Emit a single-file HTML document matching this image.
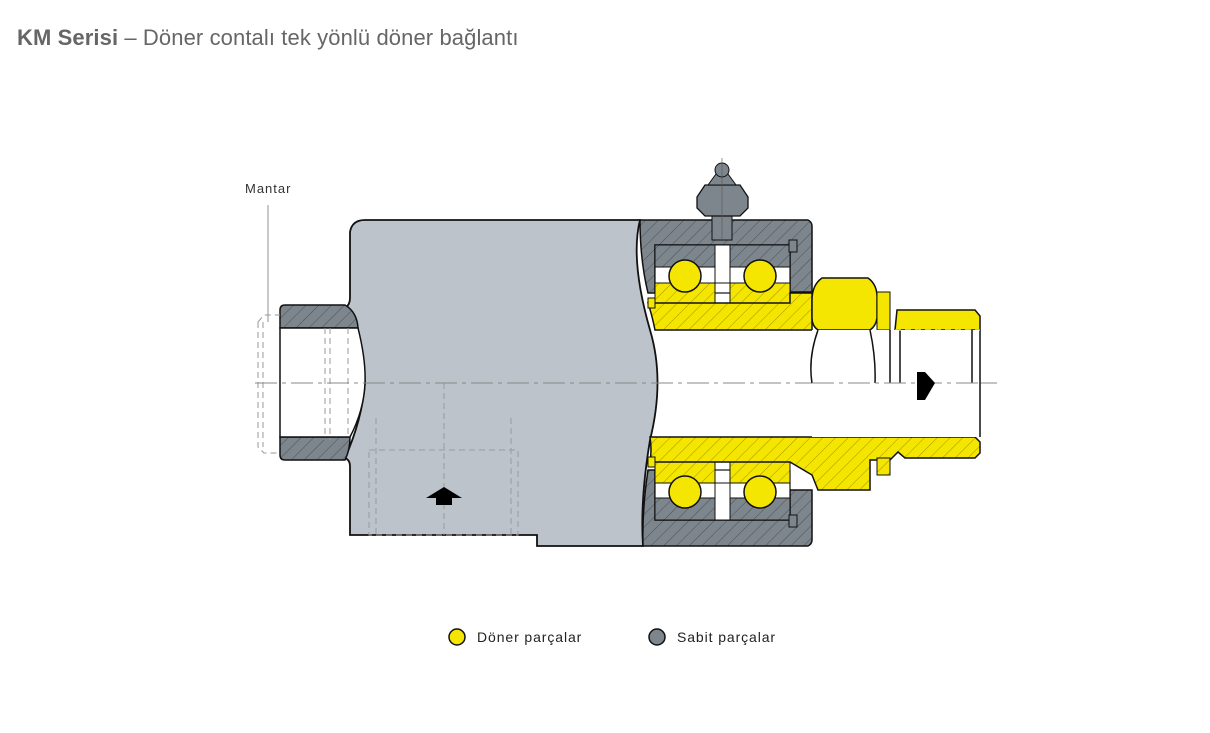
<!DOCTYPE html>
<html><head><meta charset="utf-8"><style>
html,body{margin:0;padding:0;background:#fff;}
body{width:1210px;height:733px;overflow:hidden;position:relative;font-family:"Liberation Sans",sans-serif;}
.t{position:absolute;left:17px;top:25px;font-size:22px;color:#666;letter-spacing:0.1px;}
</style></head><body>
<div class="t"><b>KM Serisi</b> – Döner contalı tek yönlü döner bağlantı</div>
<svg width="1210" height="733" style="position:absolute;left:0;top:0">
<defs>
<pattern id="hg" width="9" height="9" patternUnits="userSpaceOnUse" patternTransform="rotate(45)"><rect width="9" height="9" fill="#7e868d"/><line x1="0" y1="0" x2="0" y2="9" stroke="#4a4f54" stroke-width="1"/></pattern>
<pattern id="hy" width="9" height="9" patternUnits="userSpaceOnUse" patternTransform="rotate(45)"><rect width="9" height="9" fill="#f4e600"/><line x1="0" y1="0" x2="0" y2="9" stroke="#8a8000" stroke-width="0.8"/></pattern>
</defs>
<text x="245" y="193" font-size="13" fill="#333" letter-spacing="1">Mantar</text>
<line x1="268" y1="205" x2="268" y2="322" stroke="#777" stroke-width="0.8"/>
<!-- main body -->
<path d="M365,220 L640,220 Q630,260 650,330 Q665,380 650,440 Q640,500 643,546 L537,546 L537,535 L350,535 L350,466 Q350,460 345,458 Q362,420 365,383 Q362,345 345,308 Q350,305 350,298 L350,232 Q352,220 365,220 Z" fill="#bdc3ca" stroke="#111" stroke-width="1.8"/>
<!-- left tube -->
<path d="M285,305 L345,305 Q357,312 358,328 L280,328 L280,310 Q280,305 285,305 Z" fill="url(#hg)" stroke="#111" stroke-width="1.5"/>
<path d="M280,437 L350,437 Q350,450 345,460 L285,460 Q280,460 280,455 Z" fill="url(#hg)" stroke="#111" stroke-width="1.5"/>
<path d="M280,328 L358,328 Q366,360 365,383 Q364,410 350,437 L280,437 Z" fill="#fff" stroke="#111" stroke-width="1.5"/>
<g stroke="#999" stroke-width="1" stroke-dasharray="6,4" fill="none">
<path d="M258,322 L264,315 L280,315 M258,322 L258,447 L264,453 L280,453"/>
<line x1="263" y1="322" x2="263" y2="447"/>
<line x1="325" y1="328" x2="325" y2="440"/><line x1="330" y1="328" x2="330" y2="440"/>
<line x1="348" y1="328" x2="348" y2="437"/>
<rect x="369" y="450" width="149" height="85"/>
<line x1="376" y1="418" x2="376" y2="535"/><line x1="511" y1="418" x2="511" y2="535"/>
<line x1="444" y1="383" x2="444" y2="535"/>
</g>
<line x1="255" y1="383" x2="1000" y2="383" stroke="#888" stroke-width="1" stroke-dasharray="22,5,4,5"/>
<path d="M426,498 L444,487 L462,498 L452,498 L452,505 L436,505 L436,498 Z" fill="#000"/>
<!-- right housing -->
<path d="M640,220 L808,220 Q812,222 812,226 L812,292 L790,292 L790,245 L655,245 L655,293 L648,293 Q640,260 640,220 Z" fill="url(#hg)" stroke="#111" stroke-width="1.5"/>
<path d="M643,546 L808,546 Q812,544 812,540 L812,490 L790,490 L790,520 L655,520 L655,470 L648,470 Q642,510 643,546 Z" fill="url(#hg)" stroke="#111" stroke-width="1.5"/>
<rect x="655" y="245" width="135" height="48" fill="#fff" stroke="#111" stroke-width="1.2"/>
<rect x="655" y="470" width="135" height="50" fill="#fff" stroke="#111" stroke-width="1.2"/>
<!-- bearing outer rings -->
<rect x="655" y="245" width="60" height="22" fill="url(#hg)" stroke="#111"/>
<rect x="730" y="245" width="60" height="22" fill="url(#hg)" stroke="#111"/>
<rect x="655" y="498" width="60" height="22" fill="url(#hg)" stroke="#111"/>
<rect x="730" y="498" width="60" height="22" fill="url(#hg)" stroke="#111"/>
<!-- inner rings -->
<rect x="655" y="283" width="60" height="20" fill="url(#hy)" stroke="#111"/>
<rect x="730" y="283" width="60" height="20" fill="url(#hy)" stroke="#111"/>
<rect x="655" y="460" width="60" height="23" fill="url(#hy)" stroke="#111"/>
<rect x="730" y="460" width="60" height="23" fill="url(#hy)" stroke="#111"/>
<!-- shaft -->
<path d="M648,303 L790,303 L790,293 L812,293 L812,330 L655,330 Q652,315 648,303 Z" fill="url(#hy)" stroke="#111" stroke-width="1.5"/>
<path d="M650,437 L975,437 L980,442 L980,453 L975,458 L905,458 L898,452 L890,460 L870,460 L870,490 L818,490 L812,475 L790,462 L650,462 Q652,450 650,437 Z" fill="url(#hy)" stroke="#111" stroke-width="1.5"/>
<rect x="877" y="458" width="13" height="17" fill="url(#hy)" stroke="#111"/>
<!-- hex nut / fitting -->
<path d="M822,278 L868,278 Q878,285 877,300 L877,318 Q876,326 870,330 L818,330 Q812,326 812,318 L812,300 Q812,285 822,278 Z" fill="#f4e600" stroke="#111" stroke-width="1.5"/>
<rect x="877" y="292" width="13" height="38" fill="#f4e600" stroke="#111"/>
<path d="M897,310 L975,310 L980,316 L980,330 L895,330 Z" fill="#f4e600" stroke="#111" stroke-width="1.5"/>
<rect x="812" y="330" width="168" height="107" fill="#fff"/>
<g stroke="#111" stroke-width="1.5" fill="none">
<path d="M818,330 Q808,358 812,383 M870,330 Q876,358 875,383 M890,330 L890,383 M900,330 L900,383 M972,330 L972,383 M980,330 L980,437"/>
</g>
<line x1="812" y1="383" x2="980" y2="383" stroke="#888" stroke-width="1" stroke-dasharray="22,5,4,5"/>
<line x1="895" y1="330" x2="980" y2="330" stroke="#fff" stroke-width="1" stroke-dasharray="6,4"/>
<path d="M917,372 L925,372 L935,383 L925,400 L917,400 Z" fill="#000"/>
<!-- balls -->
<g fill="#f4e600" stroke="#111" stroke-width="1.5">
<circle cx="685" cy="276" r="16"/><circle cx="760" cy="276" r="16"/>
<circle cx="685" cy="492" r="16"/><circle cx="760" cy="492" r="16"/>
</g>
<g fill="#7e868d" stroke="#111"><rect x="789" y="240" width="8" height="12"/><rect x="789" y="515" width="8" height="12"/></g>
<g fill="#f4e600" stroke="#111"><rect x="648" y="298" width="7" height="10"/><rect x="648" y="457" width="7" height="10"/></g>
<rect x="715" y="245" width="15" height="38" fill="#fff" stroke="#111"/>
<rect x="715" y="483" width="15" height="37" fill="#fff" stroke="#111"/>
<!-- grease nipple -->
<rect x="712" y="215" width="20" height="25" fill="#7e868d" stroke="#111"/>
<path d="M697,197 L705,185 L740,185 L748,197 L748,208 L740,216 L705,216 L697,208 Z" fill="#7e868d" stroke="#111" stroke-width="1.3"/>
<path d="M708,185 L716,174 L728,174 L736,185 Z" fill="#7e868d" stroke="#111"/>
<circle cx="722" cy="170" r="7" fill="#7e868d" stroke="#111"/>
<line x1="722" y1="158" x2="722" y2="240" stroke="#555" stroke-width="0.6"/>
<!-- legend -->
<circle cx="457" cy="637" r="8" fill="#f4e600" stroke="#111" stroke-width="1.5"/>
<text x="477" y="642" font-size="14" fill="#222" letter-spacing="0.9">Döner parçalar</text>
<circle cx="657" cy="637" r="8" fill="#7e868d" stroke="#111" stroke-width="1.5"/>
<text x="677" y="642" font-size="14" fill="#222" letter-spacing="0.9">Sabit parçalar</text>
</svg>
</body></html>
